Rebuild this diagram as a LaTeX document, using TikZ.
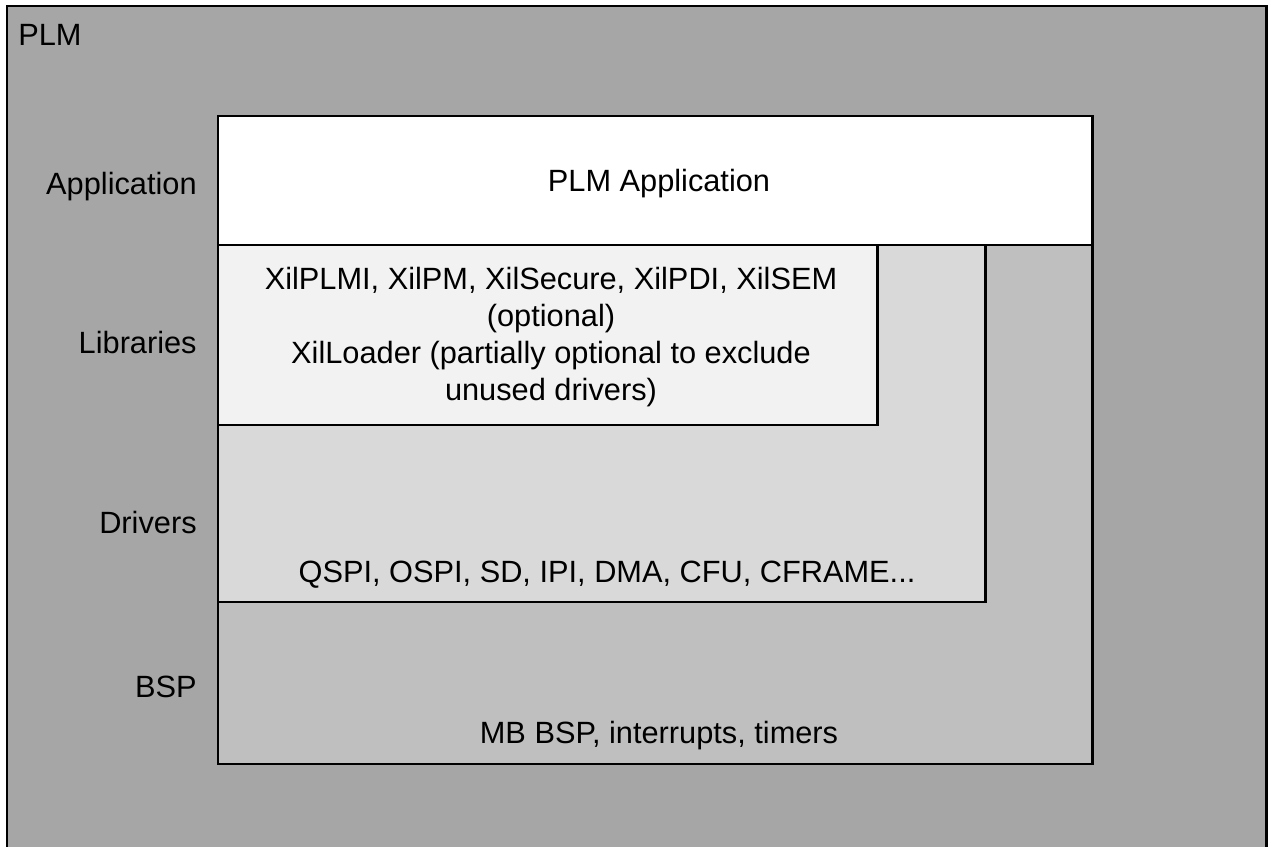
\documentclass[tikz,border=0pt]{standalone}
\usepackage{fontspec}
\setmainfont{Liberation Sans}
\definecolor{plmgray}{HTML}{A6A6A6}
\definecolor{bspgray}{HTML}{BFBFBF}
\definecolor{drvgray}{HTML}{D9D9D9}
\definecolor{libgray}{HTML}{F2F2F2}
\tikzset{
  layer/.style={draw, line width=1.6pt, rectangle, anchor=north west,
    outer sep=0pt, inner sep=0pt},
  txt/.style={font=\fontsize{17.5}{21}\selectfont, inner sep=0pt, align=center}
}
\begin{document}
\begin{tikzpicture}[x=0.02cm, y=-0.02cm]
      \useasboundingbox (0,0) rectangle (1271,846);
      \clip (0,0) rectangle (1271,846);
      % layers, largest first
      \node[layer, fill=plmgray, minimum width=25.2cm, minimum height=17.4cm] (plm) at (7,6) {};
      \node[layer, fill=bspgray, minimum width=17.5cm, minimum height=10.38cm] (bsp) at (218,245) {};
      \node[layer, fill=drvgray, minimum width=15.36cm, minimum height=7.14cm] (drv) at (218,245) {};
      \node[layer, fill=libgray, minimum width=13.2cm, minimum height=3.6cm] (lib) at (218,245) {};
      \node[layer, fill=white, minimum width=17.5cm, minimum height=2.58cm] (app) at (218,116) {};
      % side labels
      \node[txt, anchor=base west] (plmtitle) at (18,45) {PLM};
      \node[txt, anchor=base east] (applbl) at (197,194) {Application};
      \node[txt, anchor=base east] (liblbl) at (197,353) {Libraries};
      \node[txt, anchor=base east] (drvlbl) at (197,533) {Drivers};
      \node[txt, anchor=base east] (bsplbl) at (197,697) {BSP};
      % layer contents
      \node[txt, anchor=base] (apptext) at (659,191) {PLM Application};
      \node[txt] (libtext) at (551,337) {XilPLMI, XilPM, XilSecure, XilPDI, XilSEM\\(optional)\\XilLoader (partially optional to exclude\\unused drivers)};
      \node[txt, anchor=base] (drvtext) at (607,582) {QSPI, OSPI, SD, IPI, DMA, CFU, CFRAME...};
      \node[txt, anchor=base] (bsptext) at (659,743) {MB BSP, interrupts, timers};
    \end{tikzpicture}
\end{document}
